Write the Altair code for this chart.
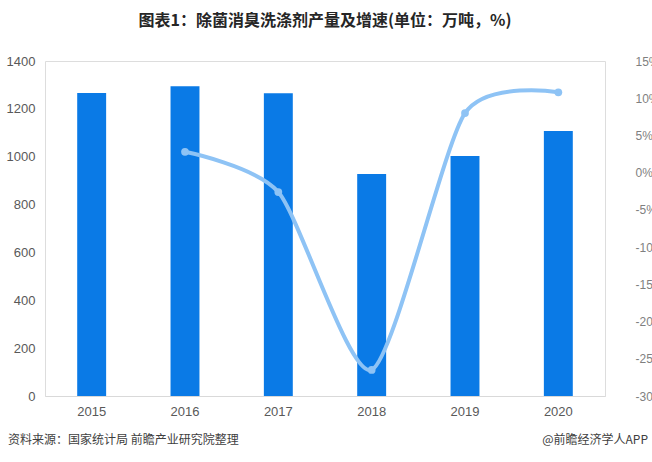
import altair as alt
import pandas as pd

years = ["2015", "2016", "2017", "2018", "2019", "2020"]
output = [1266, 1295, 1265, 928, 1003, 1107]
growth = [None, 2.8, -2.6, -26.5, 8.0, 10.8]

df = pd.DataFrame({"year": years, "output": output, "growth": growth})

FONT = "Noto Sans CJK SC"

x = alt.X("year:N", title=None,
          scale=alt.Scale(paddingInner=0.69, paddingOuter=0.345),
          axis=alt.Axis(labelAngle=0, labelFontSize=13, labelColor="#595959",
                        labelFont="Liberation Sans", ticks=False, domain=True,
                        domainColor="#d9d9d9", labelPadding=9, grid=False))

bars = alt.Chart(df).mark_bar(color="#0a7ae6").encode(
    x=x,
    y=alt.Y("output:Q", title=None,
            scale=alt.Scale(domain=[0, 1400]),
            axis=alt.Axis(values=[0, 200, 400, 600, 800, 1000, 1200, 1400], format="d",
                          labelFontSize=13, labelColor="#595959", labelFont="Liberation Sans",
                          ticks=False, domain=False, grid=False, labelPadding=10)),
)

line_df = df.dropna()
gscale = alt.Scale(domain=[-30, 15])
gaxis = alt.Axis(orient="right", values=list(range(-30, 20, 5)),
                 labelExpr="datum.value + '%'",
                 labelFontSize=12, labelColor="#7f7f7f", labelFont="Liberation Sans",
                 ticks=False, domain=False, grid=False, labelPadding=10, offset=20)
line = alt.Chart(line_df).mark_line(
    color="#8ec3f5", strokeWidth=4, interpolate="cardinal", tension=0.3,
).encode(
    x=x,
    y=alt.Y("growth:Q", title=None, scale=gscale, axis=gaxis),
)
pts = alt.Chart(line_df).mark_point(color="#8ec3f5", size=60, filled=True, opacity=1).encode(
    x=x,
    y=alt.Y("growth:Q", title=None, scale=gscale, axis=gaxis),
)

notes = pd.DataFrame({"t": ["资料来源：国家统计局 前瞻产业研究院整理"]})
src = alt.Chart(notes).mark_text(align="left", baseline="middle", font=FONT,
                                 fontSize=12, color="#404040").encode(
    text="t:N", x=alt.value(-37), y=alt.value(379))
notes2 = pd.DataFrame({"t": ["@前瞻经济学人APP"]})
src2 = alt.Chart(notes2).mark_text(align="right", baseline="middle", font=FONT,
                                   fontSize=12, color="#404040").encode(
    text="t:N", x=alt.value(603), y=alt.value(379))

chart = alt.layer(bars, alt.layer(line, pts), src, src2).resolve_scale(
    y="independent").properties(
    width=560, height=335,
    title=alt.TitleParams("图表1：除菌消臭洗涤剂产量及增速(单位：万吨，%)",
                          font=FONT, fontSize=16, fontWeight="bold", color="#262626",
                          anchor="middle", offset=26),
    autosize=alt.AutoSizeParams(type="none"),
    padding={"left": 45, "top": 61, "right": 47, "bottom": 66},
).configure_view(strokeWidth=0).configure(background="white")

chart.save("out.html", embed_options={"renderer": "svg", "actions": False})
